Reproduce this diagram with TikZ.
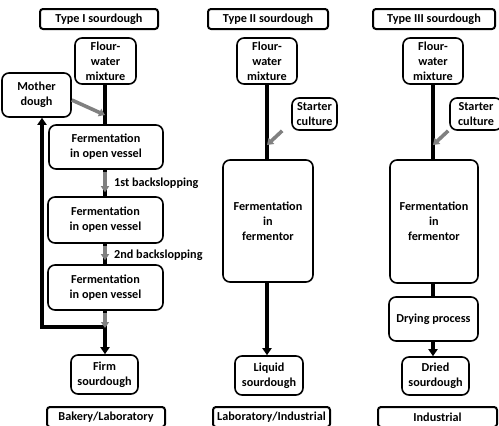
\documentclass[tikz,border=0pt]{standalone}
\usepackage{fontspec}
\setmainfont{Carlito}
\usepackage{tikz}
\usetikzlibrary{arrows.meta}
\definecolor{ink}{HTML}{000000}
\definecolor{feed}{HTML}{808080}
\tikzset{
  proc/.style={draw=ink, line width=1.6pt, rounded corners=7pt, fill=white, align=center,
    inner sep=1pt, font=\bfseries\fontsize{12.2}{15}\selectfont},
  ttl/.style={draw=ink, line width=2pt, rounded corners=3pt, fill=white, align=center,
    inner sep=1pt, minimum height=20pt, font=\bfseries\fontsize{12.2}{14}\selectfont},
  lab/.style={anchor=west, inner sep=1pt, font=\bfseries\fontsize{12.2}{14}\selectfont},
  flow/.style={draw=ink, line width=3.2pt},
  flowa/.style={flow, -{Triangle[length=7pt,width=9pt]}},
  add/.style={draw=feed, line width=3.6pt, -{Triangle[length=6pt,width=8pt]}},
}

\begin{document}
\begin{tikzpicture}[x=1pt, y=-1pt]
  \useasboundingbox (0,0) rectangle (499,426);

  % Type I
  \node[ttl, minimum width=118pt] (t1) at (99,19) {Type I sourdough};
  \node[proc, minimum width=61pt, minimum height=46pt] (fw1) at (105.5,61) {Flour-\\water\\mixture};
  \node[proc, minimum width=69pt, minimum height=44pt] (md) at (36.5,95) {Mother\\dough};
  \node[proc, minimum width=114pt, minimum height=44pt] (f1a) at (106,147) {Fermentation\\in open vessel};
  \node[proc, minimum width=115pt, minimum height=46pt] (f1b) at (105.5,220) {Fermentation\\in open vessel};
  \node[proc, minimum width=115pt, minimum height=45pt] (f1c) at (105.5,287.5) {Fermentation\\in open vessel};
  \node[proc, minimum width=67pt, minimum height=39pt] (firm) at (104.5,374.5) {Firm\\sourdough};
  \node[ttl, minimum width=118pt] (u1) at (106,417) {Bakery/Laboratory};
  \node[lab] (b1) at (113,183) {1st backslopping};
  \node[lab] (b2) at (113,255) {2nd backslopping};

  \coordinate (j1) at (105,115);
  \coordinate (j2) at (105,327);
  \coordinate (j3) at (42,327);

  \draw[flow] (fw1.south -| j1) -- (f1a.north -| j1);
  \draw[flow] (f1a.south -| j1) -- (f1b.north -| j1);
  \draw[flow] (f1b.south -| j1) -- (f1c.north -| j1);
  \draw[flowa] (f1c.south -| j1) -- (firm.north -| j1);
  \draw[flowa] ([xshift=1.6pt]j2) -- (j3) -- (md.south -| j3);
  \draw[add] (md.east |- 0,100) -- (j1);
  \draw[add] ([yshift=-2pt]f1a.south -| j1) -- ([yshift=4pt]f1b.north -| j1);
  \draw[add] ([yshift=-2pt]f1b.south -| j1) -- ([yshift=4pt]f1c.north -| j1);
  \draw[add] ([yshift=-2pt]f1c.south -| j1) -- ([yshift=-1pt]j2);

  % Type II
  \node[ttl, minimum width=120pt] (t2) at (268,19) {Type II sourdough};
  \node[proc, minimum width=60pt, minimum height=46pt] (fw2) at (267,61) {Flour-\\water\\mixture};
  \node[proc, minimum width=45pt, minimum height=32pt] (sc2) at (314.5,114) {Starter\\culture};
  \node[proc, minimum width=90pt, minimum height=122pt] (fe2) at (268,221) {Fermentation\\in\\fermentor};
  \node[proc, minimum width=68pt, minimum height=39pt] (liq) at (269,375.5) {Liquid\\sourdough};
  \node[ttl, minimum width=117pt] (u2) at (271.5,417) {Laboratory/Industrial};

  \coordinate (k1) at (267,145);
  \draw[flow] (fw2.south -| k1) -- (fe2.north -| k1);
  \draw[flowa] (fe2.south -| k1) -- (liq.north -| k1);
  \draw[add] (sc2.south west) ++(-9pt,0) -- (k1);

  % Type III
  \node[ttl, minimum width=122pt] (t3) at (434,19) {Type III sourdough};
  \node[proc, minimum width=60pt, minimum height=46pt] (fw3) at (433,61) {Flour-\\water\\mixture};
  \node[proc, minimum width=52pt, minimum height=32pt] (sc3) at (476,114) {Starter\\culture};
  \node[proc, minimum width=88pt, minimum height=123pt] (fe3) at (434,221.5) {Fermentation\\in\\fermentor};
  \node[proc, minimum width=89pt, minimum height=44pt] (dry) at (433.5,319) {Drying process};
  \node[proc, minimum width=67pt, minimum height=38pt] (dried) at (435.5,376) {Dried\\sourdough};
  \node[ttl, minimum width=119pt] (u3) at (437.5,417) {Industrial};

  \coordinate (m1) at (433,145);
  \draw[flow] (fw3.south -| m1) -- (fe3.north -| m1);
  \draw[flow] (fe3.south -| m1) -- (dry.north -| m1);
  \draw[flowa] (dry.south -| m1) -- (dried.north -| m1);
  \draw[add] (sc3.south west) ++(-1pt,0) -- (m1);
\end{tikzpicture}
\end{document}
